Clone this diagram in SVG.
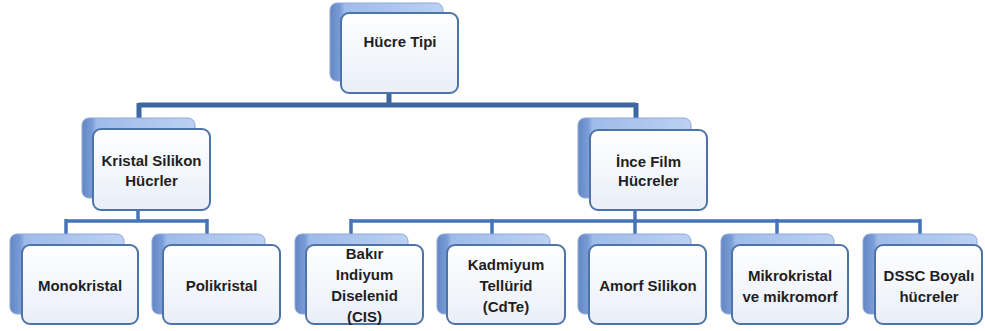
<svg xmlns="http://www.w3.org/2000/svg" width="985" height="331" viewBox="0 0 985 331">
<defs>
<linearGradient id="backG" x1="0" y1="0" x2="1" y2="0">
<stop offset="0" stop-color="#6486c4"/>
<stop offset="0.09" stop-color="#7a9cd6"/>
<stop offset="0.13" stop-color="#9fbbea"/>
<stop offset="1" stop-color="#bcd1f3"/>
</linearGradient>
<linearGradient id="frontG" x1="0" y1="0" x2="0" y2="1">
<stop offset="0" stop-color="#ffffff"/>
<stop offset="1" stop-color="#e9eef8"/>
</linearGradient>
<style>
.back{fill:url(#backG);stroke:#8fa9d8;stroke-width:1}
.front{fill:url(#frontG);stroke:#4d73a9;stroke-width:2}
.t{font-family:"Liberation Sans",Arial,sans-serif;font-weight:bold;font-size:15px;fill:#1f1f1f;text-anchor:middle}
.c1{fill:none;stroke:#3c67a0;stroke-width:5}
.c2{fill:none;stroke:#4674bb;stroke-width:3.5}
</style>
</defs>
<g id="connectors">
<path class="c1" d="M389 93V105M139 105H636M139 103V118M636 103V118"/>
<path class="c2" d="M138 210V221M66 221H207M66 219V234M207 219V234"/>
<path class="c2" d="M635 210V221M351 221H920M351 219V234M492 219V234M635 219V234M777 219V234M920 219V234"/>
</g>
<g id="n-hucre-tipi">
<rect class="back" x="330" y="3" width="113" height="78" rx="7"/>
<rect class="front" x="341" y="13" width="117" height="80" rx="8"/>
<text class="t" x="400" y="47">Hücre Tipi</text>
</g>
<g id="n-kristal">
<rect class="back" x="82" y="118" width="113" height="80" rx="7"/>
<rect class="front" x="93" y="129" width="117" height="81" rx="8"/>
<text class="t" x="151.5" y="166">Kristal Silikon</text>
<text class="t" x="151.5" y="186">Hücrler</text>
</g>
<g id="n-ince-film">
<rect class="back" x="578" y="118" width="113" height="80" rx="7"/>
<rect class="front" x="590" y="130" width="117" height="80" rx="8"/>
<text class="t" x="648.5" y="167">İnce Film</text>
<text class="t" x="648.5" y="186">Hücreler</text>
</g>
<g id="n-monokristal">
<rect class="back" x="10" y="234" width="114" height="80" rx="7"/>
<rect class="front" x="22" y="245" width="116" height="79" rx="8"/>
<text class="t" x="80" y="291">Monokristal</text>
</g>
<g id="n-polikristal">
<rect class="back" x="152" y="234" width="113" height="80" rx="7"/>
<rect class="front" x="163" y="245" width="117" height="79" rx="8"/>
<text class="t" x="221.5" y="291">Polikristal</text>
</g>
<g id="n-cis">
<rect class="back" x="295" y="234" width="113" height="80" rx="7"/>
<rect class="front" x="306" y="245" width="117" height="79" rx="8"/>
<text class="t" x="364.5" y="259">Bakır</text>
<text class="t" x="364.5" y="280">Indiyum</text>
<text class="t" x="364.5" y="301">Diselenid</text>
<text class="t" x="364.5" y="322">(CIS)</text>
</g>
<g id="n-cdte">
<rect class="back" x="437" y="234" width="113" height="80" rx="7"/>
<rect class="front" x="447" y="245" width="118" height="79" rx="8"/>
<text class="t" x="506" y="270">Kadmiyum</text>
<text class="t" x="506" y="291">Tellürid</text>
<text class="t" x="506" y="312">(CdTe)</text>
</g>
<g id="n-amorf">
<rect class="back" x="578" y="234" width="113" height="80" rx="7"/>
<rect class="front" x="589" y="245" width="117" height="79" rx="8"/>
<text class="t" x="648" y="291">Amorf Silikon</text>
</g>
<g id="n-mikro">
<rect class="back" x="721" y="234" width="113" height="80" rx="7"/>
<rect class="front" x="732" y="245" width="116" height="79" rx="8"/>
<text class="t" x="790" y="281">Mikrokristal</text>
<text class="t" x="790" y="302">ve mikromorf</text>
</g>
<g id="n-dssc">
<rect class="back" x="863" y="234" width="114" height="80" rx="7"/>
<rect class="front" x="875" y="245" width="107" height="79" rx="8"/>
<text class="t" x="929" y="281">DSSC Boyalı</text>
<text class="t" x="929" y="302">hücreler</text>
</g>
</svg>
